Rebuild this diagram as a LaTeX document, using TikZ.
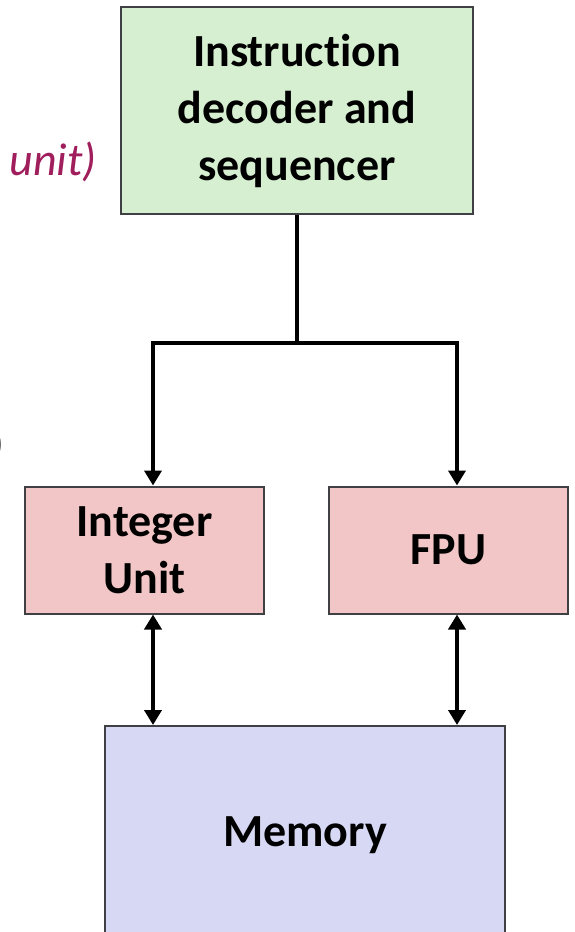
\documentclass[tikz,border=0pt]{standalone}
\usepackage{fontspec}
\setmainfont[RawFeature=-liga]{Carlito}
\usetikzlibrary{arrows.meta}
\definecolor{greenbox}{RGB}{213,239,208}
\definecolor{pinkbox}{RGB}{242,198,198}
\definecolor{bluebox}{RGB}{215,216,244}
\definecolor{edgegray}{RGB}{64,64,68}
\definecolor{plum}{RGB}{160,30,92}
\begin{document}
\begin{tikzpicture}[x=1pt,y=-1pt,
  box/.style={draw=edgegray,line width=2pt,rectangle,inner sep=0pt,align=center,
    font=\fontsize{46}{57}\selectfont\bfseries},
  conn/.style={line width=4.5pt,draw=black,line join=miter},
  tip/.style={-{Triangle[width=17pt,length=15pt]}},
  dtip/.style={{Triangle[width=17pt,length=15pt]}-{Triangle[width=17pt,length=15pt]}}]
\useasboundingbox (0,0) rectangle (574,932);
\node[box,fill=greenbox,minimum width=352pt,minimum height=207pt] (ins) at (297,110.5)
  {Instruction\\decoder and\\sequencer};
\node[box,fill=pinkbox,minimum width=239pt,minimum height=127pt] (int) at (144.5,550)
  {Integer\\Unit};
\node[box,fill=pinkbox,minimum width=239pt,minimum height=127pt] (fpu) at (448.5,550)
  {FPU};
\node[box,fill=bluebox,minimum width=400pt,minimum height=218pt] (mem) at (305,835)
  {Memory};
\node[anchor=base east,inner sep=0pt,text=plum,font=\fontsize{46}{57}\selectfont\itshape] (lbl) at (97,175) {unit)};
\node[anchor=base east,inner sep=0pt,font=\fontsize{46}{57}\selectfont] (par) at (5,458) {)};
\coordinate (jn) at (297,343);
\coordinate (jl) at (153,343);
\coordinate (jr) at (457,343);
\draw[conn] (ins.south) -- (jn);
\draw[conn,tip] (jn) -- (jl) -- (jl |- int.north);
\draw[conn,tip] (jn) -- (jr) -- (jr |- fpu.north);
\draw[conn,dtip] (jl |- int.south) -- (jl |- mem.north);
\draw[conn,dtip] (jr |- fpu.south) -- (jr |- mem.north);
\end{tikzpicture}
\end{document}
